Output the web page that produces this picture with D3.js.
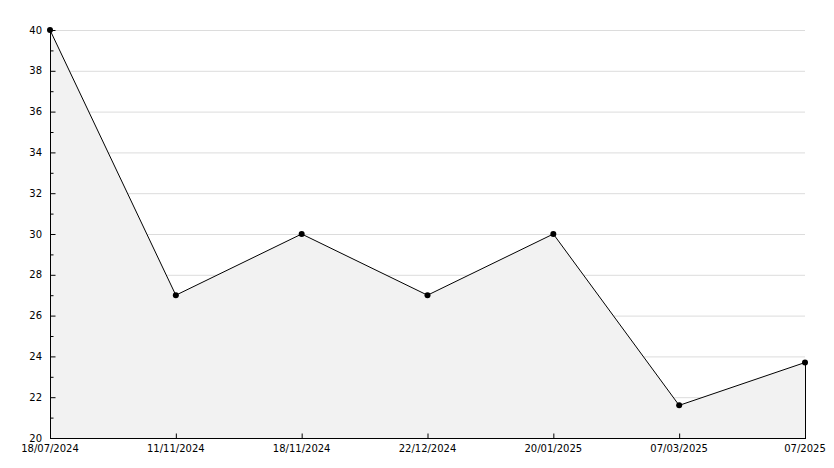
<!DOCTYPE html>
<html><head><meta charset="utf-8">
<script src="https://cdn.jsdelivr.net/npm/d3@7"></script>
<style>body{margin:0;background:#fff}svg{display:block}text{font-family:"DejaVu Sans",Verdana,sans-serif;font-size:10px;fill:#000}</style>
</head><body><svg id="c" width="834" height="468"></svg>
<script>
const categories = ["18/07/2024","11/11/2024","18/11/2024","22/12/2024","20/01/2025","07/03/2025","07/2025"];
const values = [40, 27, 30, 27, 30, 21.6, 23.7];
const yTicks = [20,22,24,26,28,30,32,34,36,38,40];
const yMinor = [21,23,25,27,29,31,33,35,37,39];

const svg = d3.select("#c");
const L=50, R=805, T=30, B=438;
const x = d3.scalePoint().domain(categories).range([L,R]);
const y = d3.scaleLinear().domain([20,40]).range([B,T]);

// grid
svg.append("g").selectAll("line").data(yTicks.filter(d=>d>20)).join("line")
  .attr("x1",L).attr("x2",R).attr("y1",d=>y(d)+0.5).attr("y2",d=>y(d)+0.5)
  .attr("stroke","#dcdcdc").attr("stroke-width",1);

// area
const area = d3.area().x((d,i)=>x(categories[i])).y0(B).y1(d=>y(d));
svg.append("path").datum(values).attr("d",area).attr("fill","#f2f2f2");
// right edge
svg.append("line").attr("x1",R+0.5).attr("x2",R+0.5).attr("y1",y(values[values.length-1])).attr("y2",B).attr("stroke","#000");

// line
const line = d3.line().x((d,i)=>x(categories[i])).y(d=>y(d));
svg.append("path").datum(values).attr("d",line).attr("fill","none").attr("stroke","#000").attr("stroke-width",1);

// axes
const yAxis = svg.append("g").attr("transform",`translate(${L+0.5},0)`)
  .call(d3.axisRight(y).tickValues(yTicks).tickSize(5).tickFormat(""));
yAxis.select(".domain").attr("d",`M0,${T}V${B+0.5}`);
svg.append("g").attr("transform",`translate(${L+0.5},0)`)
  .call(d3.axisRight(y).tickValues(yMinor).tickSize(3).tickFormat(""))
  .select(".domain").remove();
svg.append("g").selectAll("text").data(yTicks).join("text")
  .attr("x",42).attr("y",d=>y(d)).attr("dy","0.35em").attr("text-anchor","end").text(d=>d);

const xAxis = svg.append("g").attr("transform",`translate(0,${B+0.5})`)
  .call(d3.axisTop(x).tickSize(5).tickFormat(""));
xAxis.select(".domain").attr("d",`M${L},0H${R+1}`);
xAxis.selectAll(".tick").filter((d,i)=>i===0).select("line").remove();
svg.append("g").selectAll("text").data(categories).join("text")
  .attr("x",d=>x(d)).attr("y",452).attr("text-anchor","middle").text(d=>d);

// markers
svg.append("g").selectAll("circle").data(values).join("circle")
  .attr("cx",(d,i)=>x(categories[i])).attr("cy",d=>y(d)).attr("r",3).attr("fill","#000");
</script></body></html>
